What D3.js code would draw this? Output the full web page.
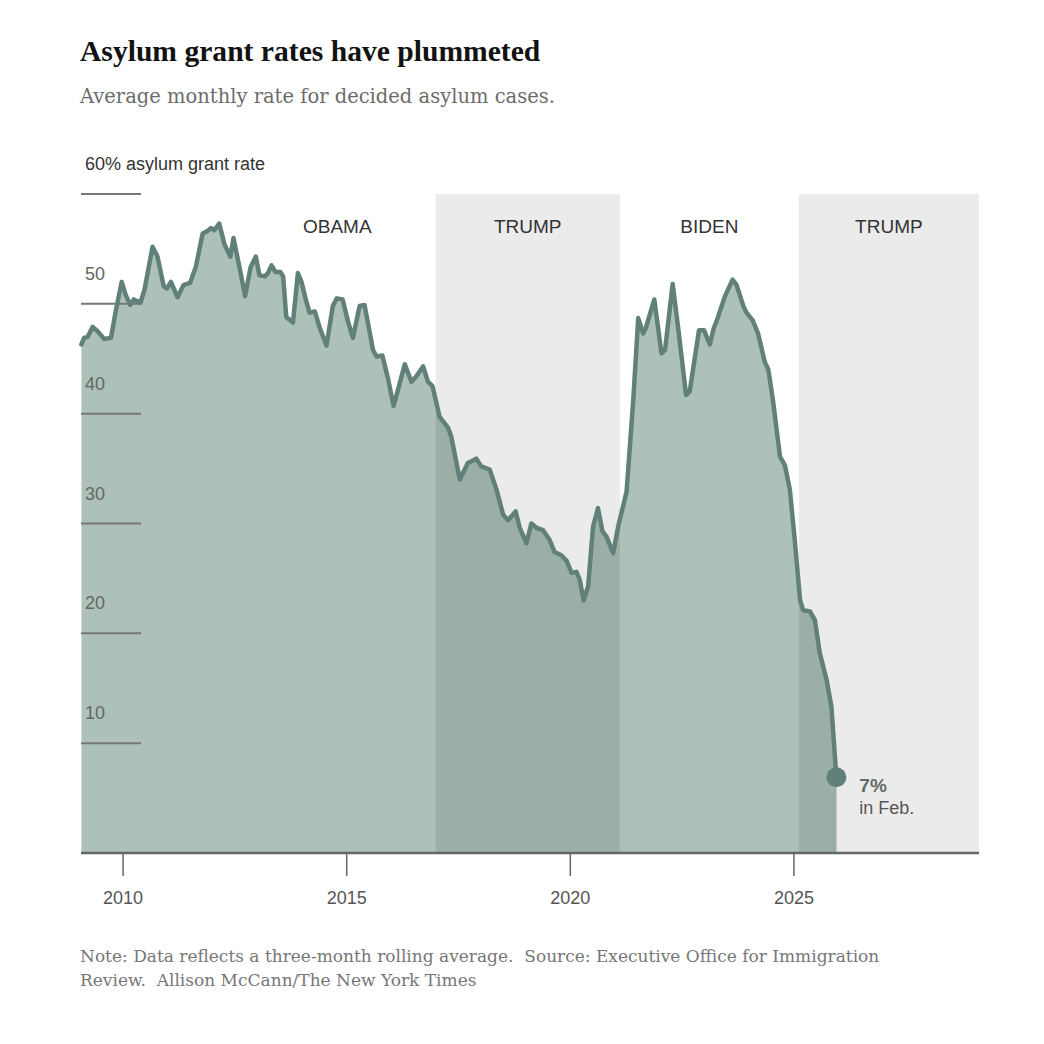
<!DOCTYPE html>
<html>
<head>
<meta charset="utf-8">
<script src="https://cdn.jsdelivr.net/npm/d3@7"></script>
<style>
body { margin: 0; background: #fff; }
</style>
</head>
<body>
<svg id="chart" width="1044" height="1044"></svg>
<script>
// monthly-ish readings, decimal year / percent granted
var years = [
    2009.08, 2009.14, 2009.22, 2009.33, 2009.44, 2009.59, 2009.74, 2009.85, 2009.98,
    2010.07, 2010.17, 2010.25, 2010.40, 2010.49, 2010.67, 2010.78, 2010.92, 2010.99,
    2011.08, 2011.23, 2011.36, 2011.51, 2011.64, 2011.79, 2011.89, 2011.98,
    2012.05, 2012.16, 2012.28, 2012.41, 2012.48, 2012.61, 2012.74, 2012.86, 2012.98,
    2013.06, 2013.18, 2013.25, 2013.33, 2013.42, 2013.53, 2013.59, 2013.66, 2013.81, 2013.92,
    2014.00, 2014.09, 2014.18, 2014.30, 2014.41, 2014.56, 2014.70, 2014.79, 2014.92,
    2015.04, 2015.15, 2015.30, 2015.41, 2015.60, 2015.68, 2015.81, 2015.94,
    2016.06, 2016.18, 2016.31, 2016.46, 2016.57, 2016.72, 2016.83, 2016.93,
    2017.09, 2017.28, 2017.35, 2017.54, 2017.72, 2017.91,
    2018.02, 2018.21, 2018.36, 2018.51, 2018.62, 2018.79, 2018.88,
    2019.03, 2019.14, 2019.26, 2019.40, 2019.55, 2019.66, 2019.81, 2019.93,
    2020.04, 2020.15, 2020.22, 2020.31, 2020.41, 2020.52, 2020.63, 2020.73, 2020.82, 2020.97,
    2021.08, 2021.27, 2021.42, 2021.53, 2021.64, 2021.70, 2021.89,
    2022.05, 2022.13, 2022.30, 2022.42, 2022.60, 2022.68, 2022.89,
    2023.00, 2023.13, 2023.22, 2023.28, 2023.47, 2023.64, 2023.73, 2023.88, 2023.95,
    2024.09, 2024.21, 2024.36, 2024.44, 2024.55, 2024.70, 2024.81, 2024.92,
    2025.03, 2025.15, 2025.22, 2025.37, 2025.48, 2025.59, 2025.74, 2025.85, 2025.96
];
var rates = [
    46.3, 46.9, 47.0, 47.9, 47.5, 46.8, 46.9, 49.4, 52.0,
    50.8, 49.9, 50.4, 50.1, 51.3, 55.2, 54.3, 51.6, 51.4,
    52.0, 50.6, 51.7, 51.9, 53.4, 56.4, 56.6, 56.9,
    56.7, 57.3, 55.4, 54.3, 56.0, 53.4, 50.7, 53.3, 54.3,
    52.6, 52.5, 52.8, 53.5, 52.9, 52.9, 52.5, 48.8, 48.3, 52.8,
    52.0, 50.5, 49.2, 49.3, 47.8, 46.2, 49.8, 50.5, 50.4,
    48.4, 46.9, 49.8, 49.9, 45.8, 45.2, 45.3, 43.1,
    40.7, 42.5, 44.5, 42.9, 43.4, 44.3, 42.9, 42.5,
    39.7, 38.7, 37.9, 34.0, 35.5, 35.9,
    35.2, 34.9, 33.1, 30.8, 30.3, 31.1, 29.6,
    28.2, 30.0, 29.6, 29.4, 28.5, 27.4, 27.1, 26.6,
    25.5, 25.6, 24.9, 23.0, 24.3, 29.7, 31.4, 29.3, 28.8, 27.3,
    29.7, 32.9, 41.3, 48.7, 47.3, 47.8, 50.4,
    45.5, 45.8, 51.8, 47.9, 41.7, 42.0, 47.6,
    47.6, 46.3, 47.8, 48.4, 50.7, 52.2, 51.7, 49.8, 49.2,
    48.5, 47.3, 44.7, 44.0, 41.0, 36.1, 35.3, 33.1,
    28.5, 23.0, 22.1, 22.0, 21.2, 18.2, 15.8, 13.3, 6.9
];

var eraNames  = ['OBAMA', 'TRUMP', 'BIDEN', 'TRUMP'];
var eraStarts = [2009.07, 2017.00, 2021.12, 2025.12];
var eraEnds   = [2017.00, 2021.12, 2025.12, 2029.15];
var eraShaded = [false, true, false, true];

var yTicks = [10, 20, 30, 40, 50, 60];
var xTicks = [2010, 2015, 2020, 2025];

var title = 'Asylum grant rates have plummeted';
var subtitle = 'Average monthly rate for decided asylum cases.';
var noteLines = [
    'Note: Data reflects a three-month rolling average.  Source: Executive Office for Immigration',
    'Review.  Allison McCann/The New York Times'
];

var sans = '"Liberation Sans", Arial, sans-serif';
var serif = '"DejaVu Serif", Georgia, serif';

var svg = d3.select('#chart');
// note: "top" is taken by window.top, so keep plot_ prefix
var plot_left = 81, plot_right = 979, plot_top = 194, plot_bottom = 853;

var x = d3.scaleLinear().domain([eraStarts[0], eraEnds[3]]).range([plot_left, plot_right]);
var y = d3.scaleLinear().domain([0, 60]).range([plot_bottom, plot_top]);

var data = years.map(function(d, i) { return { year: d, rate: rates[i] }; });
var eras = eraNames.map(function(d, i) {
    return { name: d, start: eraStarts[i], end: eraEnds[i], shaded: eraShaded[i] };
});

// header
svg.append('text')
    .attr('x', 80).attr('y', 61)
    .style('font-family', '"Liberation Serif", "Times New Roman", serif')
    .style('font-weight', 'bold')
    .style('font-size', '29.6px')
    .style('fill', '#121212')
    .text(title);

svg.append('text')
    .attr('x', 80).attr('y', 103)
    .style('font-family', serif)
    .style('font-size', '19.5px')
    .style('fill', '#6b6b6b')
    .text(subtitle);

// grey bands for trump terms
svg.append('g').selectAll('rect')
    .data(eras.filter(function(d) { return d.shaded; }))
    .enter().append('rect')
        .attr('x', function(d) { return x(d.start); })
        .attr('width', function(d) { return x(d.end) - x(d.start); })
        .attr('y', y(60))
        .attr('height', y(0) - y(60))
        .attr('fill', '#ebebeb');

var area = d3.area()
    .x(function(d) { return x(d.year); })
    .y0(y(0))
    .y1(function(d) { return y(d.rate); });

var line = d3.line()
    .x(function(d) { return x(d.year); })
    .y(function(d) { return y(d.rate); });

svg.append('path')
    .datum(data)
    .attr('d', area)
    .attr('fill', '#adc1b9');

// darker fill under the curve during shaded terms
var defs = svg.append('defs');
eras.forEach(function(e, i) {
    if (!e.shaded) return;
    defs.append('clipPath').attr('id', 'clip' + i)
        .append('rect')
        .attr('x', x(e.start)).attr('width', x(e.end) - x(e.start))
        .attr('y', 0).attr('height', 1044);
    svg.append('path')
        .datum(data)
        .attr('d', area)
        .attr('clip-path', 'url(#clip' + i + ')')
        .attr('fill', '#9bafa7');
});

// era labels
var obamaLabelYear = 2014.8;
svg.append('g').selectAll('text')
    .data(eras)
    .enter().append('text')
        .attr('x', function(d, i) { return i == 0 ? x(obamaLabelYear) : x((d.start + d.end) / 2); })
        .attr('y', 233)
        .attr('text-anchor', 'middle')
        .style('font-family', sans)
        .style('font-size', '19px')
        .style('fill', '#333')
        .text(function(d) { return d.name; });

// y ticks: short rules with labels above
var yg = svg.append('g');
yg.selectAll('line')
    .data(yTicks)
    .enter().append('line')
        .attr('x1', plot_left).attr('x2', plot_left + 60)
        .attr('y1', function(d) { return y(d); })
        .attr('y2', function(d) { return y(d); })
        .attr('stroke', '#777')
        .attr('stroke-width', 2);
yg.selectAll('text')
    .data(yTicks)
    .enter().append('text')
        .attr('x', 85)
        .attr('y', function(d) { return y(d) - 24; })
        .style('font-family', sans)
        .style('font-size', '18px')
        .style('fill', function(d) { return d == 60 ? '#333' : '#666'; })
        .text(function(d) { return d == 60 ? '60% asylum grant rate' : d; });

svg.append('path')
    .datum(data)
    .attr('d', line)
    .attr('fill', 'none')
    .attr('stroke', '#62807a')
    .attr('stroke-width', 4.5)
    .attr('stroke-linejoin', 'round')
    .attr('stroke-linecap', 'round');

// x axis
var xAxis = d3.axisBottom(x)
    .tickValues(xTicks)
    .tickFormat(d3.format('d'))
    .tickSize(23)
    .tickPadding(15);

var xg = svg.append('g')
    .attr('transform', 'translate(0,' + plot_bottom + ')')
    .call(xAxis);
xg.select('.domain')
    .attr('d', 'M' + plot_left + ',0H' + plot_right)
    .attr('stroke', '#666')
    .attr('stroke-width', 2.5);
xg.selectAll('.tick line').attr('stroke', '#666').attr('stroke-width', 1.5);
xg.selectAll('.tick text')
    .style('font-family', sans)
    .style('font-size', '18px')
    .style('fill', '#555');

// end point
var last = data[data.length - 1];
svg.append('circle')
    .attr('cx', x(last.year))
    .attr('cy', y(last.rate))
    .attr('r', 10)
    .attr('fill', '#62807a');

svg.append('text')
    .attr('x', x(last.year) + 23)
    .attr('y', y(last.rate) + 15)
    .style('font-family', sans)
    .style('font-size', '19px')
    .style('font-weight', 'bold')
    .style('fill', '#5f6b68')
    .text(Math.round(last.rate) + '%');
svg.append('text')
    .attr('x', x(last.year) + 23)
    .attr('y', y(last.rate) + 37)
    .style('font-family', sans)
    .style('font-size', '18px')
    .style('fill', '#555')
    .text('in Feb.');

// footer
svg.append('g').selectAll('text')
    .data(noteLines)
    .enter().append('text')
        .attr('x', 80)
        .attr('y', function(d, i) { return 962 + i * 24; })
        .style('font-family', serif)
        .style('font-size', '17px')
        .style('white-space', 'pre')
        .style('fill', '#777')
        .text(function(d) { return d; });
</script>
</body>
</html>
